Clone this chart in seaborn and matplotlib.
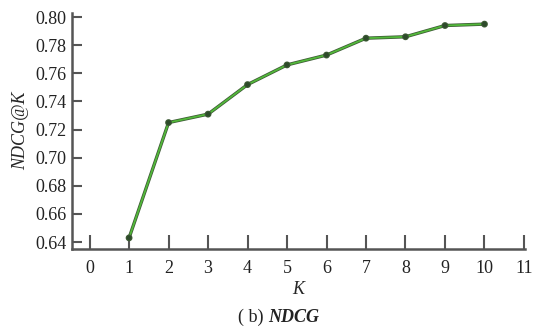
import matplotlib
matplotlib.use("Agg")
import matplotlib.pyplot as plt
import matplotlib.patheffects as pe
import seaborn as sns
import pandas as pd

# NDCG@K values
k_values = [1, 2, 3, 4, 5, 6, 7, 8, 9, 10]
ndcg = [0.643, 0.725, 0.731, 0.752, 0.766, 0.773, 0.785, 0.786, 0.794, 0.795]
x_ticks = list(range(0, 12))
y_ticks = [0.64, 0.66, 0.68, 0.70, 0.72, 0.74, 0.76, 0.78, 0.80]

df = pd.DataFrame({"K": k_values, "NDCG": ndcg})

sns.set_style("white")
plt.rcParams['font.family'] = ['Liberation Serif', 'DejaVu Serif']

fig = plt.figure(figsize=(5.36, 3.30), dpi=100)
ax = fig.add_axes([0.134, 0.245, 0.845, 0.716])

sns.lineplot(data=df, x="K", y="NDCG", ax=ax, color="#52b83a", linewidth=1.3,
             marker="o", markersize=2.5, markerfacecolor="#2d4a2a", markeredgecolor="#2d4a2a",
             path_effects=[pe.Stroke(linewidth=2.4, foreground="#3d5a35"), pe.Normal()])

ax.set_xlim(-0.45, 11.02)
ax.set_ylim(0.635, 0.803)
ax.set_xticks(x_ticks)
ax.set_yticks(y_ticks)
ax.set_yticklabels([f"{v:.2f}" for v in y_ticks])
ax.tick_params(axis="both", bottom=True, left=True, direction="in", width=1.5,
               color="#555555", labelsize=13, labelcolor="#222222")
ax.tick_params(axis="x", length=10, pad=8)
ax.tick_params(axis="y", length=7, pad=4)

for side in ["top", "right"]:
    ax.spines[side].set_visible(False)
for side in ["left", "bottom"]:
    ax.spines[side].set_color("#555555")
    ax.spines[side].set_linewidth(1.8)

ax.set_xlabel("K", fontsize=13, style="italic", labelpad=3)
ax.set_ylabel("NDCG@K", fontsize=13, style="italic", labelpad=4)

fig.text(0.5, 0.012, "( b) ", ha="right", va="bottom", fontsize=13, color="#222222")
fig.text(0.5, 0.012, "NDCG", ha="left", va="bottom", fontsize=13, style="italic",
         weight="bold", color="#222222")

fig.savefig("out.png", dpi=100)
